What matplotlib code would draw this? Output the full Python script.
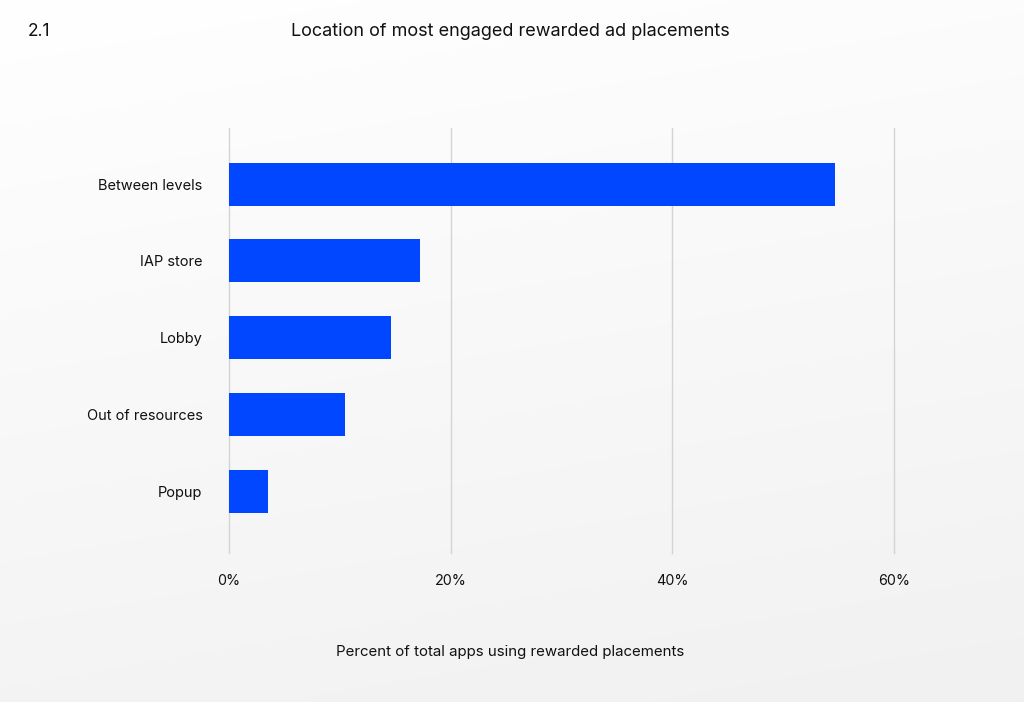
import numpy as np
import matplotlib.pyplot as plt

plt.rcParams['font.family'] = ['Inter', 'DejaVu Sans']

categories = ["Between levels", "IAP store", "Lobby", "Out of resources", "Popup"]
percent = [54.7, 17.2, 14.6, 10.5, 3.5]
x_ticks = [0, 20, 40, 60]
x_tick_labels = ["0%", "20%", "40%", "60%"]

BLUE = "#0047FF"

fig = plt.figure(figsize=(10.24, 7.02), dpi=100)

# soft light-grey gradient behind everything
bg = fig.add_axes([0, 0, 1, 1], zorder=0)
yy, xx = np.mgrid[0:1:256j, 0:1:256j]
shade = 1.0 - 0.055 * np.clip(yy * 0.8 + xx * 0.2, 0, 1)
img = np.dstack([shade, shade, shade])
bg.imshow(img, aspect="auto", extent=[0, 1, 0, 1], origin="upper")
bg.axis("off")

ax = fig.add_axes([229 / 1024, 1 - 553 / 702, (894 - 229) / 1024, (553 - 128) / 702], zorder=1)
ax.patch.set_alpha(0)

y = np.arange(len(categories))
ax.barh(y, percent, height=0.56, color=BLUE, zorder=3)

ax.set_xlim(0, 60)
ax.set_ylim(4.8, -0.73)
ax.set_xticks(x_ticks)
ax.set_xticklabels(x_tick_labels, fontsize=10.3, color="#111111")
ax.set_yticks(y)
ax.set_yticklabels(categories, fontsize=10.5, color="#111111")
ax.tick_params(axis="both", length=0)
ax.tick_params(axis="x", pad=15)
ax.tick_params(axis="y", pad=19)

ax.grid(axis="x", color="#d4d4d4", linewidth=1, zorder=0)
for gl in ax.get_xgridlines():
    gl.set_clip_on(False)
ax.grid(axis="y", visible=False)
for s in ax.spines.values():
    s.set_visible(False)

fig.text(28 / 1024, 1 - 31 / 702, "2.1", fontsize=12.5, color="#111111", va="center", ha="left")
fig.text(510 / 1024, 1 - 31 / 702, "Location of most engaged rewarded ad placements",
         fontsize=13, color="#111111", va="center", ha="center")
fig.text(510 / 1024, 1 - 652 / 702, "Percent of total apps using rewarded placements",
         fontsize=10.8, color="#111111", va="center", ha="center")

fig.savefig("out.png", dpi=100)
